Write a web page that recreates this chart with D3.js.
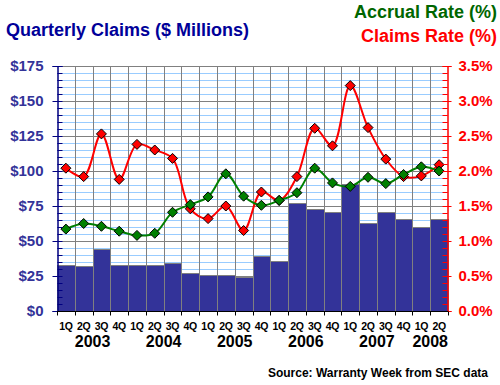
<!DOCTYPE html>
<html>
<head>
<meta charset="utf-8">
<script src="https://cdn.jsdelivr.net/npm/d3@7"></script>
<style>
  body { margin: 0; background: #fff; }
  svg { display: block; font-family: Arial, "Liberation Sans", sans-serif; font-weight: bold; }
</style>
</head>
<body>
<div id="chart"></div>
<script>
// quarterly data, 2003 1Q .. 2008 2Q
const quarters = ["1Q","2Q","3Q","4Q","1Q","2Q","3Q","4Q","1Q","2Q","3Q","4Q",
                  "1Q","2Q","3Q","4Q","1Q","2Q","3Q","4Q","1Q","2Q"];
const years = ["2003","2004","2005","2006","2007","2008"];
const claims = [33, 32, 44, 33, 33, 33, 34, 27, 25.7, 25.7, 24, 39,
                36, 77.4, 72.6, 71, 90.7, 63, 71, 66, 59.8, 66];
const accrualRate = [1.17, 1.25, 1.21, 1.14, 1.08, 1.11, 1.41, 1.52, 1.63, 1.96, 1.64, 1.51,
                     1.58, 1.69, 2.04, 1.83, 1.78, 1.91, 1.82, 1.95, 2.06, 2.00];
const claimsRate = [2.04, 1.92, 2.53, 1.88, 2.38, 2.30, 2.18, 1.46, 1.32, 1.50, 1.15, 1.70,
                    1.58, 1.92, 2.61, 2.36, 3.22, 2.62, 2.17, 1.92, 1.93, 2.09];
const leftTicks = [0, 25, 50, 75, 100, 125, 150, 175];
const rightTicks = [0, 0.5, 1.0, 1.5, 2.0, 2.5, 3.0, 3.5];

const W = 500, H = 385;
const plot = { left: 57, right: 448, top: 66, bottom: 311 };

const svg = d3.select("#chart").append("svg")
  .attr("width", W).attr("height", H);

const idx = d3.range(quarters.length);
const x = d3.scaleBand().domain(idx).range([plot.left, plot.right]).padding(0);
const y = d3.scaleLinear().domain([0, 175]).range([plot.bottom, plot.top]);
const y2 = d3.scaleLinear().domain([0, 3.5]).range([plot.bottom, plot.top]);
const cx = i => x(i) + x.bandwidth() / 2;

// grid: light blue minor lines, gray major lines
const minor = d3.range(0, 176, 5).filter(v => v % 25 !== 0);
svg.append("g").selectAll("line").data(minor).join("line")
  .attr("x1", plot.left).attr("x2", plot.right)
  .attr("y1", d => Math.round(y(d)) + 0.5).attr("y2", d => Math.round(y(d)) + 0.5)
  .attr("stroke", "#99ccff");
svg.append("g").selectAll("line").data(leftTicks.slice(1)).join("line")
  .attr("x1", plot.left).attr("x2", plot.right)
  .attr("y1", d => Math.round(y(d)) + 0.5).attr("y2", d => Math.round(y(d)) + 0.5)
  .attr("stroke", "#808080");
svg.append("g").selectAll("line").data(idx.slice(1)).join("line")
  .attr("x1", d => Math.round(x(d)) + 0.5).attr("x2", d => Math.round(x(d)) + 0.5)
  .attr("y1", plot.top).attr("y2", plot.bottom)
  .attr("stroke", "#808080");

// bars
svg.append("g").selectAll("rect").data(claims).join("rect")
  .attr("x", (d, i) => Math.round(x(i)) + 0.5)
  .attr("y", d => Math.round(y(d)) + 0.5)
  .attr("width", (d, i) => Math.round(x(i) + x.bandwidth()) - Math.round(x(i)))
  .attr("height", d => plot.bottom - Math.round(y(d)))
  .attr("fill", "#333399")
  .attr("stroke", "#808080");

// lines with diamond markers
const diamond = "M0,-5L5,0L0,5L-5,0Z";
function series(values, color) {
  const line = d3.line().x((d, i) => cx(i)).y(d => y2(d)).curve(d3.curveCatmullRom);
  svg.append("path").datum(values)
    .attr("d", line).attr("fill", "none")
    .attr("stroke", color).attr("stroke-width", 2);
  svg.append("g").selectAll("path").data(values).join("path")
    .attr("d", diamond)
    .attr("transform", (d, i) => `translate(${cx(i)},${y2(d)})`)
    .attr("fill", color).attr("stroke", "#000").attr("stroke-width", 1);
}
series(claimsRate, "#ff0000");
series(accrualRate, "#008000");

// left axis
const leftMinor = d3.range(0, 176, 5);
const gl = svg.append("g").attr("transform", `translate(${plot.left + 0.5},0)`);
gl.call(d3.axisLeft(y).tickValues(leftTicks).tickSize(5).tickPadding(9)
  .tickFormat(d => "$" + d));
gl.append("g").call(d3.axisRight(y).tickValues(leftMinor).tickSize(5).tickFormat(""));
gl.selectAll("path, line").attr("stroke", "#000080");
gl.selectAll("text").attr("fill", "#333399").style("font-size", "15px").style("font-weight", "bold")
  .style("font-family", "Arial, 'Liberation Sans', sans-serif");

// right axis
const rightMinor = d3.range(0, 36).map(v => v / 10);
const gr = svg.append("g").attr("transform", `translate(${plot.right - 0.5},0)`);
gr.call(d3.axisRight(y2).tickValues(rightTicks).tickSize(4).tickPadding(7)
  .tickFormat(d => d.toFixed(1) + "%"));
gr.append("g").call(d3.axisLeft(y2).tickValues(rightMinor).tickSize(5).tickFormat(""));
gr.selectAll("path, line").attr("stroke", "#ff0000");
gr.selectAll("text").attr("fill", "#ff0000").style("font-size", "15px").style("font-weight", "bold")
  .style("font-family", "Arial, 'Liberation Sans', sans-serif");

// bottom axis
const gb = svg.append("g").attr("transform", `translate(0,${plot.bottom + 0.5})`);
gb.append("line").attr("x1", plot.left).attr("x2", plot.right).attr("stroke", "#000");
gb.selectAll("line.tk").data(d3.range(quarters.length + 1)).join("line")
  .attr("class", "tk")
  .attr("x1", d => Math.round(plot.left + d * x.bandwidth()) + 0.5)
  .attr("x2", d => Math.round(plot.left + d * x.bandwidth()) + 0.5)
  .attr("y1", 0).attr("y2", 4).attr("stroke", "#000");

svg.append("g").selectAll("text").data(quarters).join("text")
  .attr("x", (d, i) => cx(i)).attr("y", 329.5)
  .attr("text-anchor", "middle").style("font-size", "10.5px")
  .style("letter-spacing", "-0.3px")
  .text(d => d);

svg.append("g").selectAll("text").data(years).join("text")
  .attr("x", (d, i) => {
    const q = idx.filter(j => Math.floor(j / 4) === i);
    return (cx(q[0]) + cx(q[q.length - 1])) / 2;
  })
  .attr("y", 347).attr("text-anchor", "middle").style("font-size", "16px")
  .text(d => d);

// titles
svg.append("text").attr("x", 6).attr("y", 35.5)
  .attr("fill", "#000099").style("font-size", "18px")
  .text("Quarterly Claims ($ Millions)");
svg.append("text").attr("x", 497).attr("y", 18).attr("text-anchor", "end")
  .attr("fill", "#006600").style("font-size", "18px")
  .text("Accrual Rate (%)");
svg.append("text").attr("x", 497).attr("y", 41.5).attr("text-anchor", "end")
  .attr("fill", "#ff0000").style("font-size", "18px")
  .text("Claims Rate (%)");
svg.append("text").attr("x", 488).attr("y", 377).attr("text-anchor", "end")
  .attr("fill", "#000").style("font-size", "12px")
  .text("Source: Warranty Week from SEC data");
</script>
</body>
</html>
